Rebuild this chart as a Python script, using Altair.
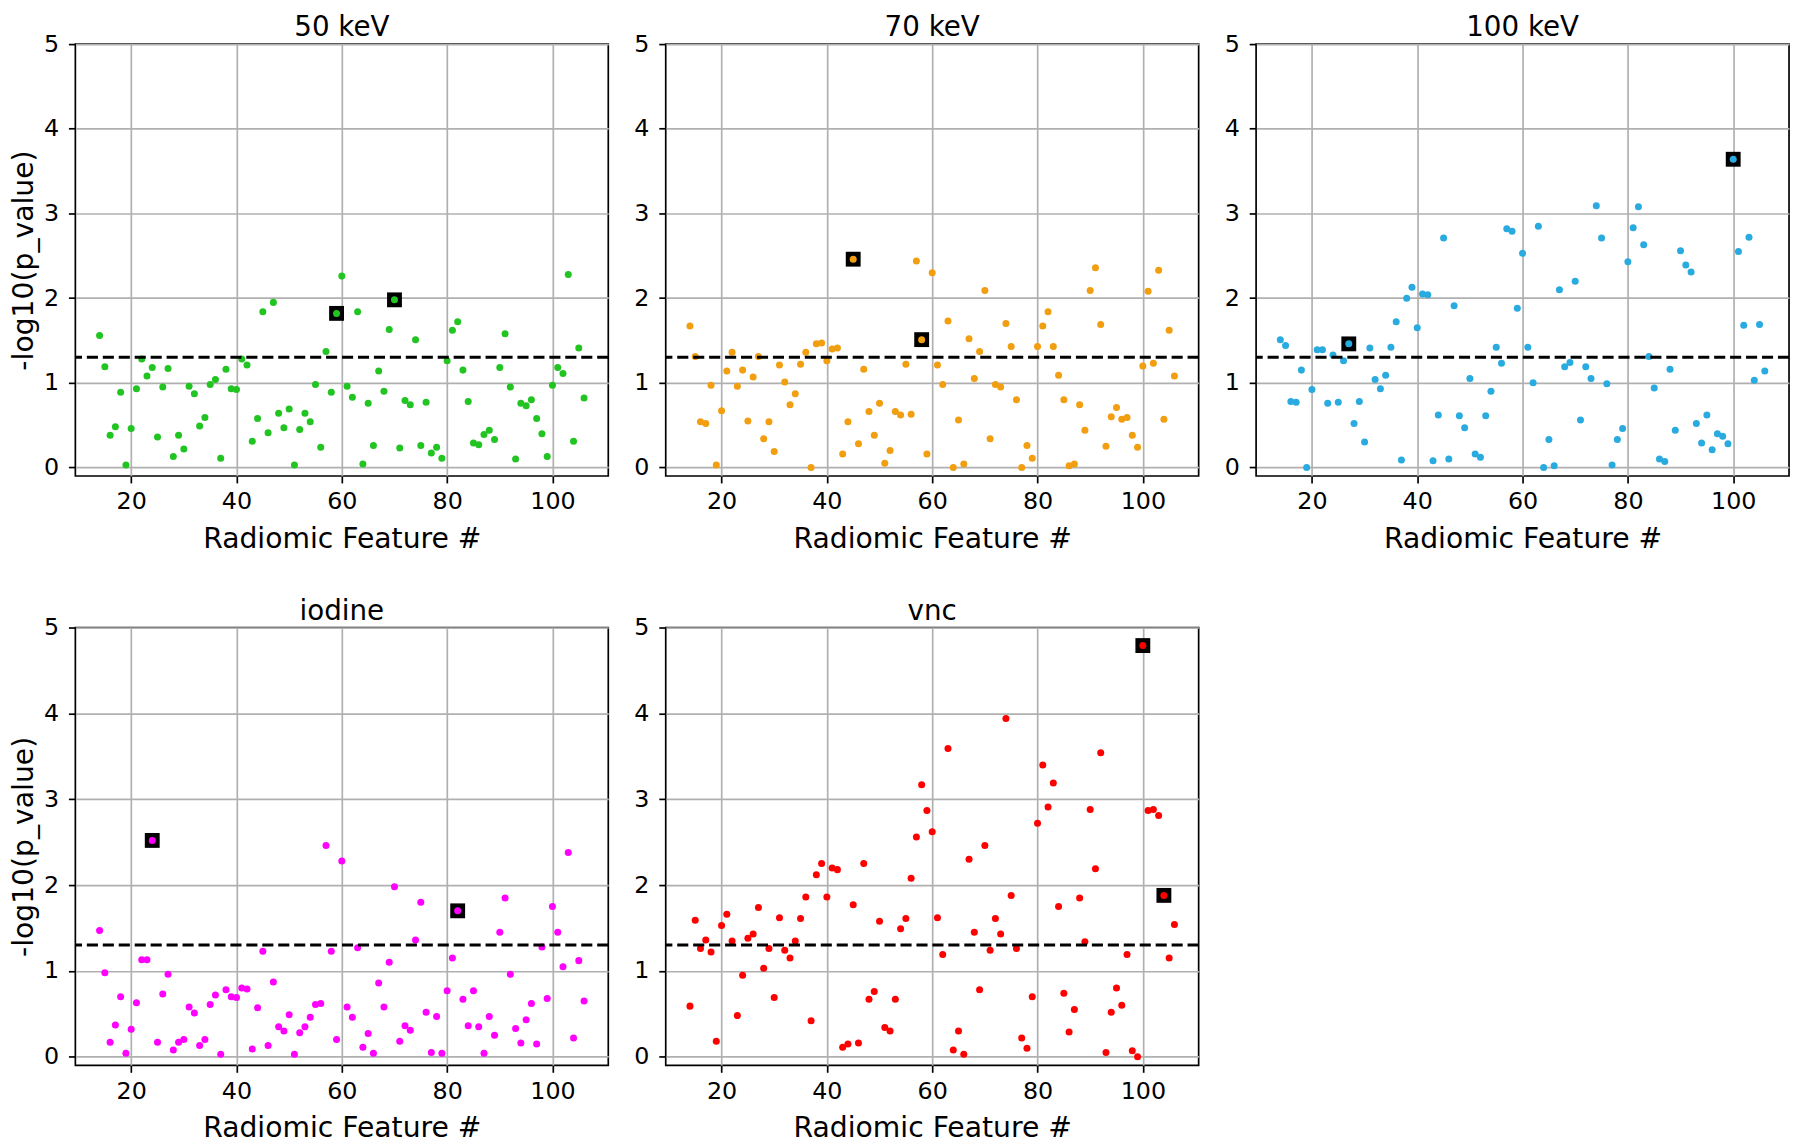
import altair as alt
import pandas as pd

features = list(range(14, 107))

kev50 = [1.56, 1.19, 0.38, 0.48, 0.89, 0.03, 0.46, 0.93, 1.28, 1.08,
         1.18, 0.36, 0.95, 1.17, 0.13, 0.38, 0.22, 0.96, 0.87, 0.49,
         0.59, 0.98, 1.04, 0.11, 1.16, 0.93, 0.92, 1.28, 1.21, 0.31,
         0.58, 1.84, 0.41, 1.95, 0.64, 0.47, 0.69, 0.03, 0.45, 0.64,
         0.54, 0.98, 0.24, 1.37, 0.89, 1.82, 2.26, 0.96, 0.83, 1.84,
         0.04, 0.76, 0.26, 1.14, 0.90, 1.63, 1.98, 0.23, 0.79, 0.74,
         1.51, 0.26, 0.77, 0.17, 0.24, 0.11, 1.26, 1.62, 1.72, 1.15,
         0.78, 0.29, 0.27, 0.39, 0.44, 0.33, 1.18, 1.58, 0.95, 0.10,
         0.76, 0.73, 0.80, 0.58, 0.40, 0.13, 0.97, 1.18, 1.11, 2.28,
         0.31, 1.41, 0.82]

kev70 = [1.67, 1.31, 0.54, 0.52, 0.97, 0.03, 0.67, 1.14, 1.36, 0.96,
         1.15, 0.55, 1.07, 1.31, 0.34, 0.54, 0.19, 1.21, 1.01, 0.74,
         0.87, 1.22, 1.36, 0.00, 1.46, 1.47, 1.26, 1.40, 1.41, 0.16,
         0.54, 2.46, 0.28, 1.16, 0.66, 0.38, 0.76, 0.05, 0.20, 0.66,
         0.62, 1.22, 0.63, 2.44, 1.51, 0.16, 2.30, 1.21, 0.98, 1.73,
         0.00, 0.56, 0.04, 1.52, 1.05, 1.37, 2.09, 0.34, 0.98, 0.95,
         1.70, 1.43, 0.80, 0.00, 0.26, 0.11, 1.43, 1.67, 1.84, 1.43,
         1.09, 0.80, 0.02, 0.04, 0.74, 0.44, 2.09, 2.36, 1.69, 0.25,
         0.60, 0.71, 0.57, 0.59, 0.38, 0.24, 1.20, 2.08, 1.23, 2.33,
         0.57, 1.62, 1.08]

kev100 = [1.51, 1.44, 0.78, 0.77, 1.15, 0.00, 0.92, 1.39, 1.39, 0.76,
          1.33, 0.77, 1.26, 1.46, 0.52, 0.78, 0.30, 1.41, 1.04, 0.93,
          1.09, 1.42, 1.72, 0.09, 2.00, 2.13, 1.65, 2.05, 2.04, 0.08,
          0.62, 2.71, 0.10, 1.91, 0.61, 0.47, 1.05, 0.16, 0.12, 0.61,
          0.90, 1.42, 1.23, 2.82, 2.79, 1.88, 2.53, 1.42, 1.00, 2.85,
          0.00, 0.33, 0.02, 2.10, 1.19, 1.24, 2.20, 0.56, 1.19, 1.05,
          3.09, 2.71, 0.99, 0.03, 0.33, 0.46, 2.43, 2.83, 3.08, 2.63,
          1.31, 0.94, 0.10, 0.07, 1.16, 0.44, 2.56, 2.39, 2.31, 0.52,
          0.29, 0.62, 0.21, 0.40, 0.37, 0.28, 3.64, 2.55, 1.68, 2.72,
          1.03, 1.69, 1.14]

iodine = [1.47, 0.98, 0.17, 0.37, 0.70, 0.04, 0.32, 0.63, 1.13, 1.13,
          2.52, 0.17, 0.73, 0.96, 0.08, 0.17, 0.20, 0.58, 0.51, 0.13,
          0.20, 0.61, 0.72, 0.03, 0.78, 0.70, 0.69, 0.80, 0.79, 0.09,
          0.57, 1.23, 0.13, 0.87, 0.35, 0.30, 0.49, 0.03, 0.28, 0.35,
          0.46, 0.61, 0.62, 2.46, 1.23, 0.20, 2.28, 0.58, 0.46, 1.27,
          0.11, 0.27, 0.04, 0.86, 0.58, 1.10, 1.98, 0.18, 0.36, 0.31,
          1.36, 1.80, 0.52, 0.05, 0.47, 0.04, 0.77, 1.15, 1.70, 0.67,
          0.36, 0.77, 0.35, 0.04, 0.47, 0.25, 1.45, 1.85, 0.96, 0.33,
          0.16, 0.43, 0.62, 0.15, 1.28, 0.68, 1.75, 1.45, 1.05, 2.38,
          0.22, 1.12, 0.65]

vnc = [0.59, 1.59, 1.26, 1.36, 1.22, 0.18, 1.53, 1.66, 1.35, 0.48,
       0.95, 1.38, 1.43, 1.74, 1.03, 1.26, 0.69, 1.62, 1.24, 1.15,
       1.35, 1.61, 1.86, 0.42, 2.12, 2.25, 1.86, 2.20, 2.18, 0.11,
       0.15, 1.77, 0.16, 2.25, 0.67, 0.76, 1.58, 0.34, 0.30, 0.67,
       1.49, 1.61, 2.08, 2.56, 3.17, 2.87, 2.62, 1.62, 1.19, 3.59,
       0.08, 0.30, 0.03, 2.30, 1.45, 0.78, 2.46, 1.24, 1.61, 1.43,
       3.94, 1.88, 1.26, 0.22, 0.10, 0.70, 2.72, 3.40, 2.91, 3.19,
       1.75, 0.74, 0.29, 0.55, 1.85, 1.34, 2.88, 2.19, 3.54, 0.05,
       0.52, 0.80, 0.60, 1.19, 0.07, 0.00, 4.79, 2.87, 2.88, 2.81,
       1.88, 1.15, 1.54]

titles = ["50 keV", "70 keV", "100 keV", "iodine", "vnc"]
series = [kev50, kev70, kev100, iodine, vnc]
colors = ["#22c422", "#f19e10", "#2aabe0", "#ff00ff", "#ff0000"]
highlights = [[59, 70], [45, 58], [27, 100], [24, 82], [100, 104]]
threshold = 1.301  # -log10(0.05)

x_ticks = [20, 40, 60, 80, 100]
y_ticks = [0, 1, 2, 3, 4, 5]

PW = 538
PH_TOP, PH_BOTTOM = 436, 442


def panel(title, values, color, hl, show_ytitle, ph):
    df = pd.DataFrame({"feature": features, "value": values})
    hdf = df[df["feature"].isin(hl)]
    xenc = alt.X("feature:Q",
                 scale=alt.Scale(domain=[9.4, 110.6], nice=False, zero=False),
                 axis=alt.Axis(values=x_ticks, title="Radiomic Feature #", labelFlush=False))
    if show_ytitle:
        yaxis = alt.Axis(values=y_ticks, labelFlush=False, title="-log10(p_value)")
    else:
        yaxis = alt.Axis(values=y_ticks, labelFlush=False, title=None)
    yenc = alt.Y("value:Q", scale=alt.Scale(domain=[-0.1, 5.0], nice=False, zero=False), axis=yaxis)
    squares = alt.Chart(hdf).mark_square(color="black", size=225, opacity=1).encode(x=xenc, y=yenc)
    dots = alt.Chart(df).mark_circle(color=color, size=50, opacity=1).encode(x=xenc, y=yenc)
    rule = alt.Chart(pd.DataFrame({"value": [threshold]})).mark_rule(
        color="black", strokeWidth=3.0, strokeDash=[11.2, 4.9]).encode(y=yenc)
    return alt.layer(squares, dots, rule).properties(
        width=PW, height=ph,
        title=alt.TitleParams(title, offset=-10))


panels = [panel(titles[i], series[i], colors[i], highlights[i], i in (0, 3),
                PH_TOP if i < 3 else PH_BOTTOM) for i in range(5)]

chart = alt.vconcat(
    alt.hconcat(panels[0], panels[1], panels[2], spacing=21),
    alt.hconcat(panels[3], panels[4], spacing=21),
    spacing=43,
).properties(padding=0).configure_view(
    stroke="black", strokeWidth=1.7
).configure_axis(
    grid=True, gridColor="#b0b0b0", gridWidth=1.7, domain=False,
    ticks=True, tickColor="black", tickWidth=1.7, tickSize=7,
    labelFont="DejaVu Sans", labelFontSize=24, labelColor="black",
    titleFont="DejaVu Sans", titleFontSize=28.5, titleColor="black", titleFontWeight="normal",
).configure_axisX(titlePadding=11, labelPadding=7).configure_axisY(
    titlePadding=5, labelPadding=10
).configure_title(
    font="DejaVu Sans", fontSize=28, fontWeight="normal", color="black"
)

chart.save("out.html", embed_options={"renderer": "svg", "actions": False})
